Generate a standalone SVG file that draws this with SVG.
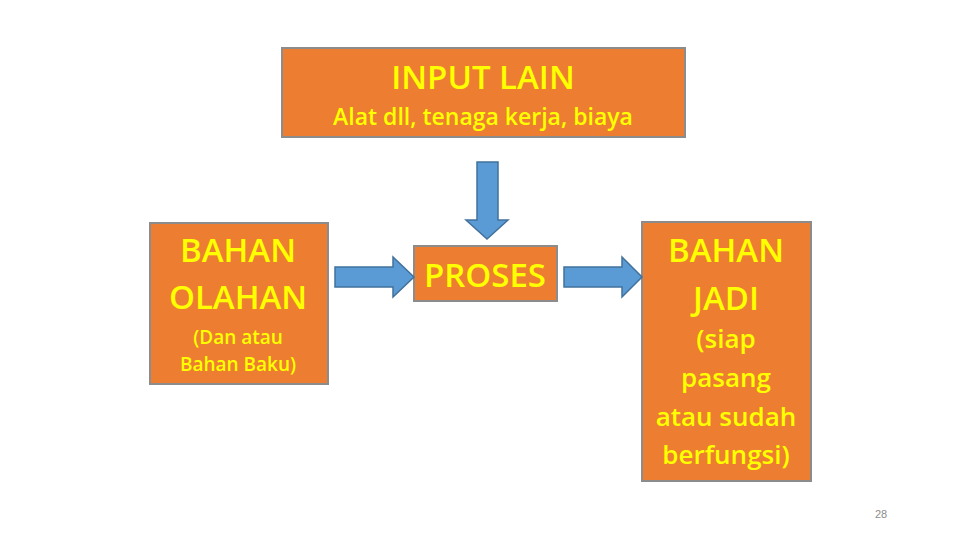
<svg xmlns="http://www.w3.org/2000/svg" width="960" height="540" viewBox="0 0 960 540">
<style>
.box{fill:#ED7D31;stroke:#8C8C8C;stroke-width:2}
.t{font-family:"Open Sans","Noto Sans",sans-serif;fill:#FFFF00;text-anchor:middle;font-weight:600}
.big{font-size:33px}
.mid{font-size:23px}
.sm{font-size:19px}
.rs{font-size:26px}
.arr{fill:#5B9BD5;stroke:#41719C;stroke-width:1.5}
</style>
<rect width="960" height="540" fill="#FFFFFF"/>
<g id="input-lain">
<rect class="box" x="282" y="48" width="403" height="89"/>
<text class="t big" x="483" y="89">INPUT LAIN</text>
<text class="t mid" x="483" y="125">Alat dll, tenaga kerja, biaya</text>
</g>
<g id="bahan-olahan">
<rect class="box" x="150" y="223" width="178" height="161"/>
<text class="t big" x="238" y="262">BAHAN</text>
<text class="t big" x="238" y="309">OLAHAN</text>
<text class="t sm" x="238" y="344">(Dan atau</text>
<text class="t sm" x="238" y="371">Bahan Baku)</text>
</g>
<g id="proses">
<rect class="box" x="414" y="246" width="143" height="55"/>
<text class="t big" x="485" y="287">PROSES</text>
</g>
<g id="bahan-jadi">
<rect class="box" x="642" y="222" width="169" height="259"/>
<text class="t big" x="726" y="262">BAHAN</text>
<text class="t big" x="726" y="310">JADI</text>
<text class="t rs" x="726" y="348">(siap</text>
<text class="t rs" x="726" y="387">pasang</text>
<text class="t rs" x="726" y="426">atau sudah</text>
<text class="t rs" x="726" y="464">berfungsi)</text>
</g>
<g id="connectors">
<polygon class="arr" points="477,162 498,162 498,220 508,220 487,239 466,220 477,220"/>
<polygon class="arr" points="335,267 393,267 393,257 414,277 393,297 393,287 335,287"/>
<polygon class="arr" points="564,267 622,267 622,257 642,277 622,297 622,287 564,287"/>
</g>
<text x="881" y="518" font-family="'Liberation Sans',sans-serif" font-size="11" fill="#8C8C8C" text-anchor="middle">28</text>
</svg>
